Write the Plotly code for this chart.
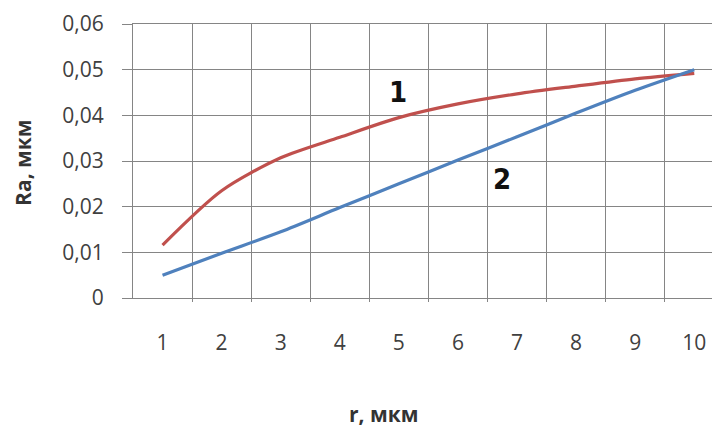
import plotly.graph_objects as go

categories = [1, 2, 3, 4, 5, 6, 7, 8, 9, 10]
series1 = [0.0116, 0.0235, 0.0307, 0.0352, 0.0395, 0.0425, 0.0447, 0.0464, 0.0480, 0.0492]
series2 = [0.0050, 0.0098, 0.0145, 0.0198, 0.0250, 0.0302, 0.0353, 0.0405, 0.0455, 0.0500]
y_tickvals = [0, 0.01, 0.02, 0.03, 0.04, 0.05, 0.06]
y_ticktext = ["0", "0,01", "0,02", "0,03", "0,04", "0,05", "0,06"]
x_ticktext = [str(c) for c in categories]
grid_positions = [c + 0.5 for c in categories[:-1]]

fig = go.Figure()
fig.add_trace(go.Scatter(x=categories, y=series1, mode="lines",
                         line=dict(color="#C0504D", width=3.2, shape="spline", smoothing=0.8),
                         showlegend=False))
fig.add_trace(go.Scatter(x=categories, y=series2, mode="lines",
                         line=dict(color="#4F81BD", width=3.2, shape="spline", smoothing=0.8),
                         showlegend=False))

tick_font = dict(family="Open Sans", size=21, color="#404040")
title_font = dict(family="Open Sans", size=21, color="#333333")
label_font = dict(family="DejaVu Sans Condensed", size=29, color="#111111")

fig.update_layout(
    width=712, height=427,
    margin=dict(l=133, r=0, t=24, b=129),
    paper_bgcolor="white", plot_bgcolor="white",
    xaxis=dict(
        range=[0.5, 10.30],
        tickvals=categories, ticktext=x_ticktext,
        showgrid=False, ticks="", tickfont=tick_font,
        ticklabelstandoff=26,
        showline=True, linecolor="#858585", linewidth=1, mirror=True,
        zeroline=False,
        minor=dict(tickvals=grid_positions, showgrid=True, gridcolor="#858585",
                   gridwidth=1, ticks="outside", ticklen=3, tickcolor="#858585"),
    ),
    yaxis=dict(
        range=[0, 0.06],
        tickvals=y_tickvals, ticktext=y_ticktext,
        showgrid=True, gridcolor="#858585", gridwidth=1,
        ticks="outside", ticklen=10, tickcolor="#858585",
        tickfont=tick_font, ticklabelstandoff=14,
        showline=True, linecolor="#858585", linewidth=1,
        zeroline=False,
    ),
    annotations=[
        dict(x=4.98, y=0.0451, xref="x", yref="y", text="<b>1</b>", showarrow=False,
             font=label_font, xanchor="center", yanchor="middle"),
        dict(x=6.75, y=0.0261, xref="x", yref="y", text="<b>2</b>", showarrow=False,
             font=label_font, xanchor="center", yanchor="middle"),
        dict(x=0.432, y=-0.423, xref="paper", yref="paper", text="<b>r, мкм</b>",
             showarrow=False, font=title_font, xanchor="center", yanchor="middle"),
        dict(x=-0.19, y=0.493, xref="paper", yref="paper", text="<b>Ra, мкм</b>",
             showarrow=False, font=title_font, textangle=-90, xanchor="center", yanchor="middle"),
    ],
)

fig.write_html("out.html", config={"displayModeBar": False},
               post_script="document.body.style.margin='0';document.body.style.overflow='hidden';")
